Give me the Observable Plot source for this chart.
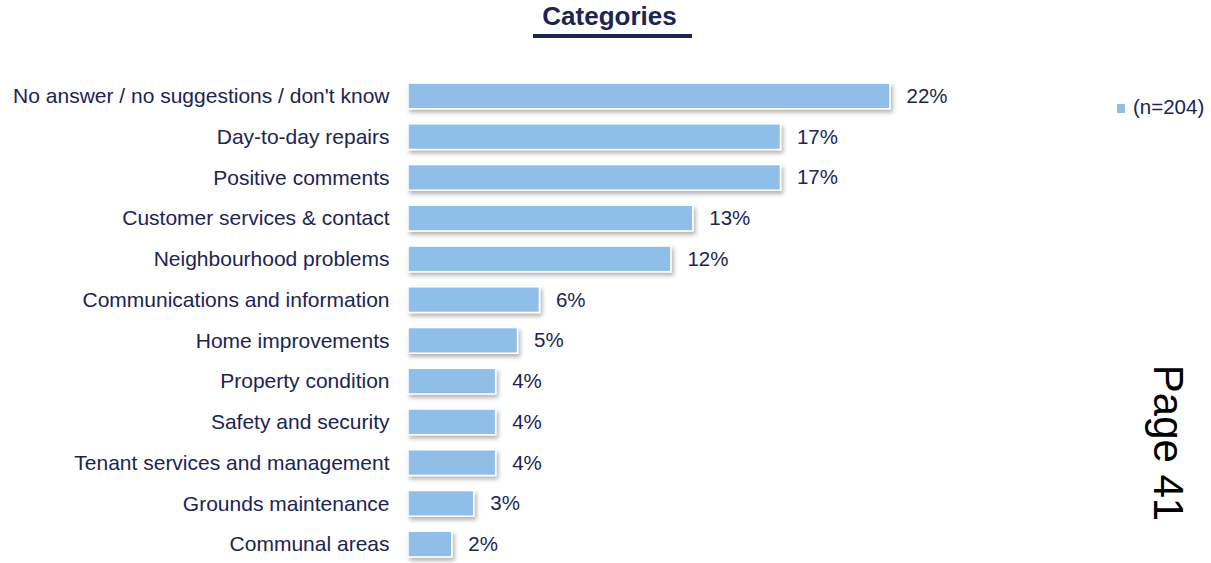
<!DOCTYPE html>
<html>
<head>
<meta charset="utf-8">
<script src="https://cdn.jsdelivr.net/npm/d3@7"></script>
<script src="https://cdn.jsdelivr.net/npm/@observablehq/plot@0.6"></script>
<style>
  html, body { margin: 0; padding: 0; background: #fff; }
  body { width: 1211px; height: 563px; position: relative; overflow: hidden; font-family: "Liberation Sans", Arial, sans-serif; }
  #title { height: 60px; position: relative; }
  #title span { position: absolute; left: 490px; width: 239px; top: 3px; line-height: 26px; text-align: center; font-weight: bold; font-size: 26px; color: #1c2453; }
  #title div { position: absolute; left: 533px; width: 159px; top: 34px; height: 4px; background: #1c2453; }
  #chart svg { display: block; }
  #legend { position: absolute; left: 1117px; top: 96px; font-size: 20.5px; line-height: 22px; color: #1c2453; white-space: nowrap; }
  #legend i { display: inline-block; width: 8px; height: 9px; background: #8fbee8; margin-right: 8px; vertical-align: 1px; }
  #page { position: absolute; left: 1168px; top: 443px; transform: translate(-50%, -50%) rotate(90deg); font-size: 42px; color: #000; white-space: nowrap; }
</style>
</head>
<body>
<div id="title"><span>Categories</span><div></div></div>
<div id="chart"></div>
<div id="legend"><i></i>(n=204)</div>
<div id="page">Page 41</div>
<script>
const categories = [
  "No answer / no suggestions / don't know",
  "Day-to-day repairs",
  "Positive comments",
  "Customer services & contact",
  "Neighbourhood problems",
  "Communications and information",
  "Home improvements",
  "Property condition",
  "Safety and security",
  "Tenant services and management",
  "Grounds maintenance",
  "Communal areas"
];
const values = [22, 17, 17, 13, 12, 6, 5, 4, 4, 4, 3, 2];
const seriesName = "(n=204)";

const data = categories.map((c, i) => ({category: c, value: values[i]}));

const chart = Plot.plot({
  width: 1211,
  height: 503,
  marginLeft: 408,
  marginRight: 321,
  marginTop: 19,
  marginBottom: 2,
  style: {fontFamily: "'Liberation Sans', Arial, sans-serif", fontSize: "20px", background: "transparent"},
  x: {domain: [0, 22], axis: null},
  y: {domain: categories, paddingInner: 0.37, paddingOuter: 0.1, round: false, label: null},
  marks: [
    Plot.axisY({tickSize: 0, tickPadding: 19, fontSize: 21, color: "#1c2453", label: null}),
    Plot.barX(data, {x: "value", y: "category", fill: "#8fbee8", stroke: "#fff", strokeWidth: 1.5, className: "bars"}),
    Plot.text(data, {x: "value", y: "category", text: d => d.value + "%", textAnchor: "start", dx: 16, fill: "#1c2453", fontSize: 20.5})
  ]
});

// drop shadow under bars
const svg = d3.select(chart);
const defs = svg.insert("defs", ":first-child");
const f = defs.append("filter").attr("id", "sh").attr("x", "-10%").attr("y", "-30%").attr("width", "130%").attr("height", "190%");
f.append("feDropShadow").attr("dx", 2).attr("dy", 3).attr("stdDeviation", 2).attr("flood-color", "#000").attr("flood-opacity", 0.3);
svg.selectAll("g.bars").attr("filter", "url(#sh)");

document.getElementById("chart").appendChild(chart);
</script>
</body>
</html>
